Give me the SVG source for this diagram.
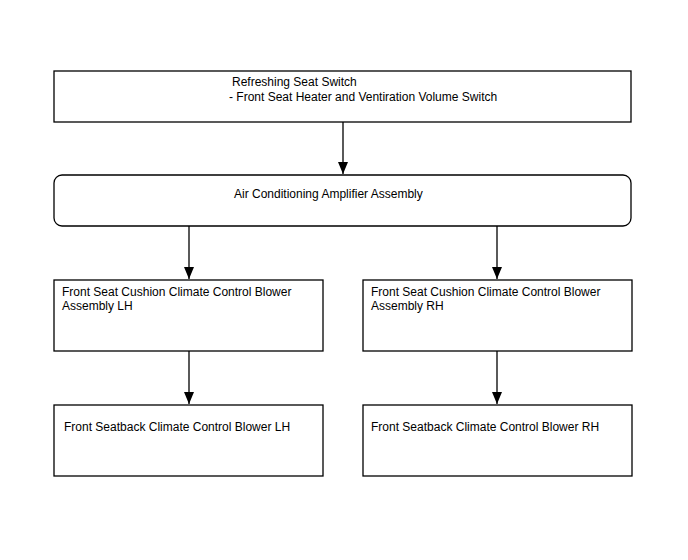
<svg xmlns="http://www.w3.org/2000/svg" width="688" height="560" viewBox="0 0 688 560">
<style>
.box{fill:#fff;stroke:#000;stroke-width:1.3}
.t{font-family:"Liberation Sans",Arial,sans-serif;font-size:12px;fill:#000}
.c{stroke:#000;stroke-width:1.3;fill:none}
.ah{fill:#000}
</style>
<rect width="688" height="560" fill="#fff"/>
<g id="n1"><rect class="box" x="54" y="71" width="577" height="51"/>
<text class="t" x="232" y="86">Refreshing Seat Switch</text>
<text class="t" x="229" y="101">- Front Seat Heater and Ventiration Volume Switch</text></g>
<g id="n2"><rect class="box" x="54" y="175" width="577" height="51" rx="8"/>
<text class="t" x="234" y="198">Air Conditioning Amplifier Assembly</text></g>
<g id="n3"><rect class="box" x="54" y="280" width="269" height="71"/>
<text class="t" x="62" y="296">Front Seat Cushion Climate Control Blower</text>
<text class="t" x="62" y="310">Assembly LH</text></g>
<g id="n4"><rect class="box" x="363" y="280" width="269" height="71"/>
<text class="t" x="371" y="296">Front Seat Cushion Climate Control Blower</text>
<text class="t" x="371" y="310">Assembly RH</text></g>
<g id="n5"><rect class="box" x="54" y="405" width="269" height="71"/>
<text class="t" x="64" y="431">Front Seatback Climate Control Blower LH</text></g>
<g id="n6"><rect class="box" x="363" y="405" width="269" height="71"/>
<text class="t" x="371" y="431">Front Seatback Climate Control Blower RH</text></g>
<g id="connectors">
<line class="c" x1="343" y1="122" x2="343" y2="174"/>
<path class="ah" d="M338,162 L348,162 L343,174 Z"/>
<line class="c" x1="189" y1="226" x2="189" y2="279"/>
<path class="ah" d="M184,267 L194,267 L189,279 Z"/>
<line class="c" x1="497" y1="226" x2="497" y2="279"/>
<path class="ah" d="M492,267 L502,267 L497,279 Z"/>
<line class="c" x1="189" y1="351" x2="189" y2="404"/>
<path class="ah" d="M184,392 L194,392 L189,404 Z"/>
<line class="c" x1="497" y1="351" x2="497" y2="404"/>
<path class="ah" d="M492,392 L502,392 L497,404 Z"/>
</g>
</svg>
